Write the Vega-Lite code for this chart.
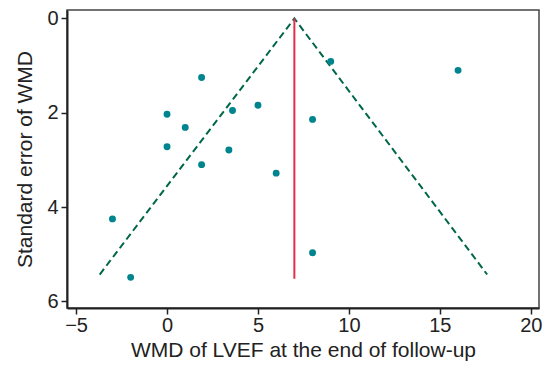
{
  "$schema": "https://vega.github.io/schema/vega-lite/v6.json",
  "width": 472,
  "height": 298,
  "autosize": "none",
  "padding": {"left": 67, "top": 10, "right": 5, "bottom": 60},
  "background": "white",
  "config": {
    "view": {"stroke": "#444", "strokeWidth": 1.5},
    "font": "Liberation Sans",
    "axis": {
      "grid": false,
      "domainColor": "#222",
      "domainWidth": 2,
      "tickColor": "#222",
      "tickWidth": 1.5,
      "tickSize": 6,
      "labelFont": "Liberation Sans",
      "labelFontSize": 20,
      "labelColor": "#222",
      "titleFont": "Liberation Sans",
      "titleFontSize": 21,
      "titleFontWeight": "normal",
      "titleColor": "#222"
    }
  },
  "datasets": {
    "studies": [
      {"wmd": 1.9, "se": 1.25},
      {"wmd": 0.0, "se": 2.03},
      {"wmd": 1.0, "se": 2.31},
      {"wmd": 0.0, "se": 2.72},
      {"wmd": 3.6, "se": 1.95},
      {"wmd": 5.0, "se": 1.84},
      {"wmd": 3.4, "se": 2.79},
      {"wmd": 1.9, "se": 3.1},
      {"wmd": 6.0, "se": 3.28},
      {"wmd": 9.0, "se": 0.91},
      {"wmd": 16.0, "se": 1.1},
      {"wmd": 8.0, "se": 2.14},
      {"wmd": -3.0, "se": 4.25},
      {"wmd": -2.0, "se": 5.49},
      {"wmd": 8.0, "se": 4.97}
    ],
    "funnel": [
      {"wmd": -3.7, "se": 5.43, "ord": 1},
      {"wmd": 7.0, "se": 0.0, "ord": 2},
      {"wmd": 17.6, "se": 5.43, "ord": 3}
    ],
    "pooled": [
      {"wmd": 7.0, "se0": 0.0, "se1": 5.52}
    ]
  },
  "layer": [
    {
      "data": {"name": "funnel"},
      "mark": {"type": "line", "color": "#00664a", "strokeWidth": 2, "strokeDash": [7, 4]},
      "encoding": {
        "x": {"field": "wmd", "type": "quantitative",
              "scale": {"domain": [-5.5, 20.45], "nice": false, "zero": false},
              "axis": {"values": [-5, 0, 5, 10, 15, 20], "title": "WMD of LVEF at the end of follow-up", "labelPadding": 1, "titlePadding": 4}},
        "y": {"field": "se", "type": "quantitative",
              "scale": {"domain": [-0.18, 6.14], "nice": false, "zero": false, "reverse": true},
              "axis": {"values": [0, 2, 4, 6], "title": "Standard error of WMD", "labelPadding": 3, "titlePadding": 11}},
        "order": {"field": "ord", "type": "quantitative"}
      }
    },
    {
      "data": {"name": "pooled"},
      "mark": {"type": "rule", "color": "#e3304a", "strokeWidth": 2},
      "encoding": {
        "x": {"field": "wmd", "type": "quantitative"},
        "y": {"field": "se0", "type": "quantitative"},
        "y2": {"field": "se1"}
      }
    },
    {
      "data": {"name": "studies"},
      "mark": {"type": "circle", "color": "#00858f", "opacity": 1, "size": 48},
      "encoding": {
        "x": {"field": "wmd", "type": "quantitative"},
        "y": {"field": "se", "type": "quantitative"}
      }
    }
  ]
}
